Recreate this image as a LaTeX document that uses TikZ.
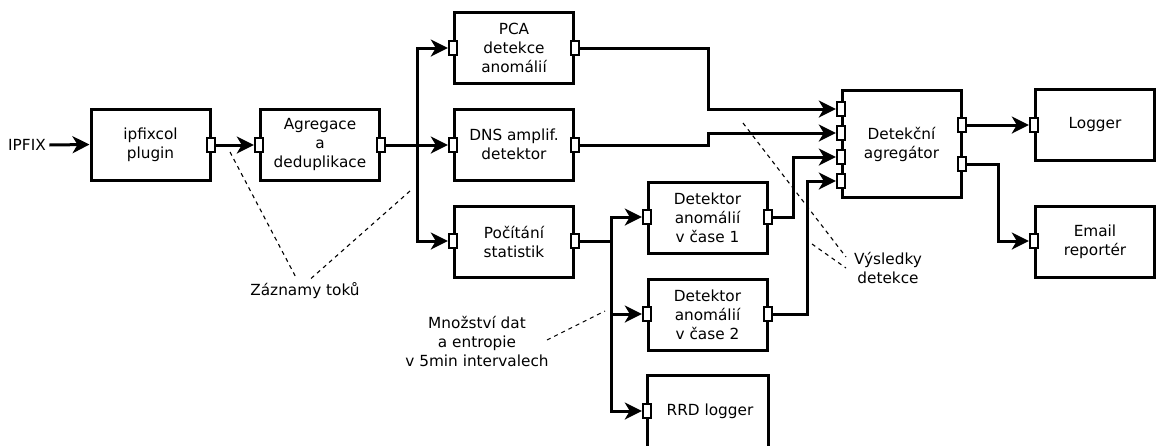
\documentclass[tikz,border=0pt]{standalone}
\usepackage{fontspec}
\setmainfont{DejaVu Sans}
\usetikzlibrary{arrows.meta}

\begin{document}
\begin{tikzpicture}[x=1pt,y=-1pt,font=\fontsize{15.3}{19}\selectfont,
  box/.style={draw,line width=3pt,minimum width=119pt,minimum height=71pt,inner sep=0pt,align=center},
  port/.style={draw,fill=white,line width=2.4pt,minimum width=8pt,minimum height=14pt,inner sep=0pt},
  flow/.style={line width=3pt,-{Stealth[length=17pt,width=17pt,inset=5pt]}},
  wire/.style={line width=3pt},
  note/.style={line width=1.1pt,dash pattern=on 4pt off 4pt}]
\useasboundingbox (0,0) rectangle (1157,445);
% boxes
\node[box] (plug) at (150.5,144.5) {ipfixcol\\plugin};
\node[box] (agr) at (320,144.5) {Agregace\\a\\deduplikace};
\node[box] (pca) at (514,47.5) {PCA\\detekce\\anomálií};
\node[box] (dns) at (514,144.5) {DNS amplif.\\detektor};
\node[box] (stat) at (514,241.5) {Počítání\\statistik};
\node[box] (det1) at (707.5,217.5) {Detektor\\anomálií\\v čase 1};
\node[box] (det2) at (707.5,314.5) {Detektor\\anomálií\\v čase 2};
\draw[wire] (647,450) |- (768,375) -- (768,450);
\node (rrd) at (710,411) {RRD logger};
\node[box,minimum height=107pt] (agg) at (901.5,144) {Detekční\\agregátor};
\node[box] (log) at (1095,125) {Logger};
\node[box] (mail) at (1095,241.5) {Email\\reportér};
% ports
\node[port] (plug-o) at (211,145) {};
\node[port] (agr-i) at (259,145) {};
\node[port] (agr-o) at (381,145) {};
\node[port] (pca-i) at (453,48) {};
\node[port] (pca-o) at (575,48) {};
\node[port] (dns-i) at (453,145) {};
\node[port] (dns-o) at (575,145) {};
\node[port] (stat-i) at (453,241) {};
\node[port] (stat-o) at (575,241) {};
\node[port] (det1-i) at (647,217) {};
\node[port] (det1-o) at (768,217) {};
\node[port] (det2-i) at (647,314) {};
\node[port] (det2-o) at (768,314) {};
\node[port] (rrd-i) at (647,411) {};
\foreach \n/\y in {1/109,2/133,3/157,4/181}
  \node[port] (agg-i\n) at (841,\y) {};
\node[port] (agg-o1) at (962,125) {};
\node[port] (agg-o2) at (962,164) {};
\node[port] (log-i) at (1034,125) {};
\node[port] (mail-i) at (1034,241) {};
% connectors
\node (ipfix) at (27,145) {IPFIX};
\coordinate (split1) at (417,145);
\coordinate (split2) at (611,241);
\draw[flow] (ipfix.east) -- (plug.west);
\draw[flow] (plug-o.east) -- (agr-i.west);
\draw[flow] (agr-o.east) -- (dns-i.west);
\draw[flow] (split1) |- (pca-i.west);
\draw[flow] (split1) |- (stat-i.west);
\draw[wire] (stat-o.east) -- (split2);
\draw[flow] (split2) |- (det1-i.west);
\draw[flow] (split2) |- (det2-i.west);
\draw[flow] (split2) |- (rrd-i.west);
\draw[flow] (pca-o.east) -- ++(128,0) |- (agg-i1.west);
\draw[flow] (dns-o.east) -- ++(128,0) |- (agg-i2.west);
\draw[flow] (det1-o.east) -- ++(20,0) |- (agg-i3.west);
\draw[flow] (det2-o.east) -- ++(34,0) |- (agg-i4.west);
\draw[flow] (agg-o1.east) -- (log-i.west);
\draw[flow] (agg-o2.east) -- ++(31,0) |- (mail-i.west);
% notes
\node (zaz) at (305,291) {Záznamy toků};
\node[align=center] (mnoz) at (477,341) {Množství dat\\a entropie\\v 5min intervalech};
\node[align=center] (vys) at (888,268) {Výsledky\\detekce};
\coordinate (z1) at (230,152);
\coordinate (z2) at (410,191);
\coordinate (m1) at (547,340);
\coordinate (m2) at (605,311);
\coordinate (v1) at (743,123);
\coordinate (v2) at (812,244);
\draw[note] (z1) -- ([xshift=-8pt]zaz.north);
\draw[note] (z2) -- ([xshift=5pt]zaz.north);
\draw[note] (m1) -- (m2);
\draw[note] (v1) -- (846,257);
\draw[note] (v2) -- (846,268);
\end{tikzpicture}
\end{document}
